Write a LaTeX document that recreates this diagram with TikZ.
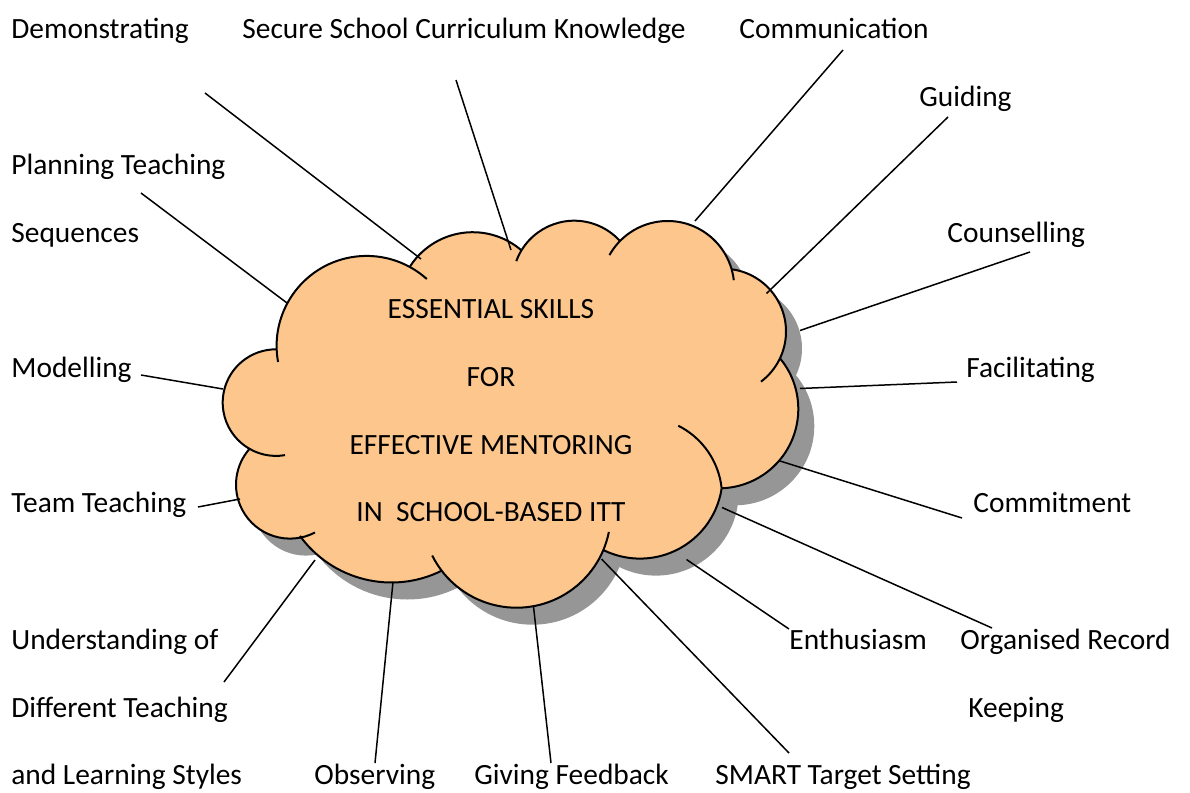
\documentclass[tikz,border=0pt]{standalone}
\usepackage{fontspec}
\setmainfont{Carlito}
\usepackage{tikz}
\definecolor{cloudpeach}{RGB}{252,198,140}
\definecolor{cloudshade}{RGB}{150,150,150}

\begin{document}
\begin{tikzpicture}[x=0.5pt, y=-0.5pt,
  lbl/.style={anchor=base west, inner sep=0pt, font=\fontsize{14.7}{17}\selectfont},
  inlbl/.style={anchor=base, inner sep=0pt, font=\fontsize{14.7}{17}\selectfont},
  wire/.style={line width=0.75pt},
  rim/.style={line width=1pt}]
\useasboundingbox (0,0) rectangle (1190,793);

% shadow, then cloud body
\begin{scope}[shift={(16,17)}]
\fill[cloudshade] (366.6,345.9) -- (472.7,306.7) -- (574.2,282.4) -- (667.6,287.6)
  -- (723.2,331.5) -- (719,409) -- (640,476) -- (516.5,513.5) -- (391.4,469.5)
  -- (290,484.6) -- (276,402.6) -- cycle;
\foreach \cx/\cy/\r in {366.6/345.9/90, 472.7/306.7/74.5, 574.2/282.4/61.7,
  667.6/287.6/66.6, 723.2/331.5/62.8, 719/409/79.3, 640/476/82.6,
  516.5/513.5/94.2, 391.4/469.5/113, 290/484.6/54, 276/402.6/53.3}
  \fill[cloudshade] (\cx,\cy) circle (\r);
\end{scope}
\fill[cloudpeach] (366.6,345.9) -- (472.7,306.7) -- (574.2,282.4) -- (667.6,287.6)
  -- (723.2,331.5) -- (719,409) -- (640,476) -- (516.5,513.5) -- (391.4,469.5)
  -- (290,484.6) -- (276,402.6) -- cycle;
\foreach \cx/\cy/\r in {366.6/345.9/90, 472.7/306.7/74.5, 574.2/282.4/61.7,
  667.6/287.6/66.6, 723.2/331.5/62.8, 719/409/79.3, 640/476/82.6,
  516.5/513.5/94.2, 391.4/469.5/113, 290/484.6/54, 276/402.6/53.3}
  \fill[cloudpeach] (\cx,\cy) circle (\r);

% bump outlines
\foreach \cx/\cy/\r/\a/\b in {366.6/345.9/90/169.7/312, 472.7/306.7/74.5/213/310.8,
  574.2/282.4/61.7/200.1/317.9, 667.6/287.6/66.6/209.2/353.6,
  723.2/331.5/62.8/277.8/413, 719/409/79.3/-39.7/88, 640/476/82.6/8.6/116.4,
  642.7/496.7/79.4/-63.4/-6.1, 516.5/513.5/94.2/11.3/153.5,
  391.4/469.5/113/63.6/144, 290/484.6/54/62.5/222.2, 276/402.6/53.3/80.3/270.8}
  \draw[rim] (\cx,\cy) ++(\a:\r) arc[start angle=\a, end angle=\b, radius=\r];

\node[inlbl] (essential) at (491,318.5) {ESSENTIAL SKILLS};
\node[inlbl] (for) at (491,386) {FOR};
\node[inlbl] (effective) at (491,454) {EFFECTIVE MENTORING};
\node[inlbl] (itt) at (491,521.5) {IN~~SCHOOL-BASED ITT};

\node[lbl] (demo) at (11,38) {Demonstrating};
\node[lbl] (secure) at (242,38) {Secure School Curriculum Knowledge};
\node[lbl] (comm) at (739,38) {Communication};
\node[lbl] (guid) at (919,106) {Guiding};
\node[lbl] (plan) at (11,174) {Planning Teaching};
\node[lbl] (seq) at (11,242) {Sequences};
\node[lbl] (couns) at (947,242) {Counselling};
\node[lbl] (model) at (11,377) {Modelling};
\node[lbl] (facil) at (966,377) {Facilitating};
\node[lbl] (team) at (11,512) {Team Teaching};
\node[lbl] (commit) at (973,512) {Commitment};
\node[lbl] (under) at (11,649) {Understanding of};
\node[lbl] (enth) at (789,649) {Enthusiasm};
\node[lbl] (organ) at (960,649) {Organised Record};
\node[lbl] (diff) at (11,717) {Different Teaching};
\node[lbl] (keep) at (968,717) {Keeping};
\node[lbl] (learn) at (11,784) {and Learning Styles};
\node[lbl] (obs) at (314,784) {Observing};
\node[lbl] (feed) at (474,784) {Giving Feedback};
\node[lbl] (smart) at (715,784) {SMART Target Setting};

\coordinate (demo-a) at (205,93);    \coordinate (demo-b) at (421,259);
\coordinate (secure-a) at (456,80);  \coordinate (secure-b) at (511,250);
\coordinate (comm-a) at (843,50);    \coordinate (comm-b) at (695,221);
\coordinate (guid-a) at (948,117);   \coordinate (guid-b) at (766.5,293.5);
\coordinate (couns-a) at (1030,252); \coordinate (couns-b) at (800,330.5);
\coordinate (facil-a) at (957,382);  \coordinate (facil-b) at (800,388.5);
\coordinate (commit-a) at (962,518); \coordinate (commit-b) at (780,461);
\coordinate (organ-a) at (992,628);  \coordinate (organ-b) at (722,507.5);
\coordinate (enth-a) at (789,629);   \coordinate (enth-b) at (686.5,559.5);
\coordinate (smart-a) at (789,753);  \coordinate (smart-b) at (601.5,559);
\coordinate (feed-a) at (551,763);   \coordinate (feed-b) at (533.5,606.5);
\coordinate (obs-a) at (375,763);    \coordinate (obs-b) at (393,582);
\coordinate (under-a) at (224,682);  \coordinate (under-b) at (315,560);
\coordinate (team-a) at (198,507);   \coordinate (team-b) at (240,499);
\coordinate (model-a) at (141,375);  \coordinate (model-b) at (223,389);
\coordinate (plan-a) at (141,193);   \coordinate (plan-b) at (287,303);

\foreach \w in {demo,secure,comm,guid,couns,facil,commit,organ,enth,smart,feed,obs,under,team,model,plan}
  \draw[wire] (\w-a) -- (\w-b);
\end{tikzpicture}
\end{document}
